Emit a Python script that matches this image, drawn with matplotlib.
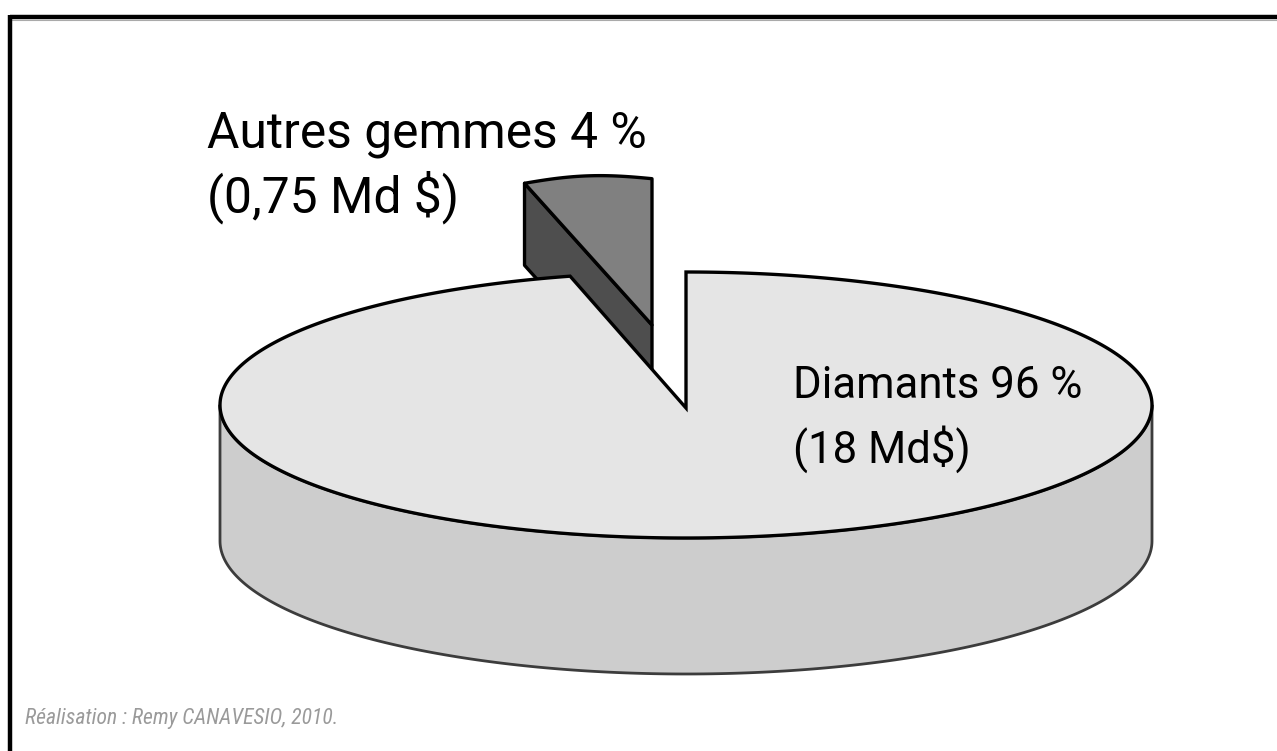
import numpy as np
import matplotlib.pyplot as plt
from matplotlib.patches import Polygon

# data
labels = ['Diamants', 'Autres gemmes']
shares = [96, 4]
amounts = ['18 Md$', '0,75 Md $']
credit = 'Réalisation : Remy CANAVESIO, 2010.'

W, H = 1277, 751
fig = plt.figure(figsize=(W / 100, H / 100), dpi=100)
ax = fig.add_axes([0, 0, 1, 1])
ax.set_xlim(0, W)
ax.set_ylim(H, 0)
ax.set_axis_off()

# pie geometry (pixel space, fake 3d)
cx, cy = 686, 405
a, b = 466, 133
depth = 136
start = 90.0
small_span = 360.0 * shares[1] / sum(shares)
end_small = start + small_span


def ell(t, x0=cx, y0=cy, s=1.0):
    t = np.radians(t)
    return np.column_stack([x0 + s * a * np.cos(t), y0 - s * b * np.sin(t)])


# exploded slice (drawn first, main pie hides part of it)
tip = np.array([652, 325])
sc = 1.1
sl_arc = ell(np.linspace(start, end_small, 30), tip[0], tip[1], sc)
sl_arc[:, 1] -= 4 * np.sin(np.linspace(0, np.pi, 30))  # slight arch on top edge
left_pt = sl_arc[-1]
sl_depth = 82
dark = np.array([left_pt, tip, tip + [0, sl_depth], left_pt + [0, sl_depth]])
ax.add_patch(Polygon(dark, closed=True, facecolor='#4e4e4e', edgecolor='black',
                     lw=2.4, joinstyle='round', zorder=1))
ax.add_patch(Polygon(np.vstack([tip, sl_arc]), closed=True, facecolor='#808080',
                     edgecolor='black', lw=2.4, joinstyle='round', zorder=2))

# side of main pie
t_front = np.linspace(180, 360, 200)
top_front = ell(t_front)
bot_front = ell(t_front[::-1], cx, cy + depth)
ax.add_patch(Polygon(np.vstack([top_front, bot_front]), closed=True,
                     facecolor='#cdcdcd', edgecolor='#3c3c3c', lw=2.0,
                     joinstyle='round', zorder=3))

# top face of main pie
t_main = np.linspace(end_small, start + 360, 400)
top = np.vstack([[cx, cy + 3], ell(t_main)])
ax.add_patch(Polygon(top, closed=True, facecolor='#e5e5e5', edgecolor='black',
                     lw=2.4, joinstyle='miter', zorder=4))

# frame (top and left only visible)
ax.plot([10, W], [17, 17], color='black', lw=3.2, solid_capstyle='butt', zorder=5)
ax.plot([10, W], [19.8, 19.8], color='#aaaaaa', lw=0.8, zorder=5)
ax.plot([10, 10], [15, H], color='black', lw=3.2, solid_capstyle='butt', zorder=5)

renderer = fig.canvas.get_renderer()
fam = ['Roboto', 'DejaVu Sans']


def fit_text(x, y, s, width, size0, **kw):
    t = ax.text(x, y, s, fontsize=size0, ha='left', va='baseline', zorder=6, **kw)
    w = t.get_window_extent(renderer).width
    t.set_fontsize(size0 * width / w)
    return t


t1 = fit_text(207, 147, f'{labels[1]} {shares[1]} %', 440, 40, family=fam)
ax.text(207, 212, f'({amounts[1]})', fontsize=t1.get_fontsize(), family=fam,
        ha='left', va='baseline', zorder=6)

t2 = fit_text(793, 398, f'{labels[0]} {shares[0]} %', 289, 30, family=fam)
ax.text(793, 463, f'({amounts[0]})', fontsize=t2.get_fontsize(), family=fam,
        ha='left', va='baseline', zorder=6)

fit_text(25, 724, credit, 312, 12,
         family=['Roboto Condensed', 'Liberation Sans Narrow', 'Roboto', 'DejaVu Sans'],
         style='italic', color='#9a9a9a')

fig.savefig('out.png', dpi=100)
